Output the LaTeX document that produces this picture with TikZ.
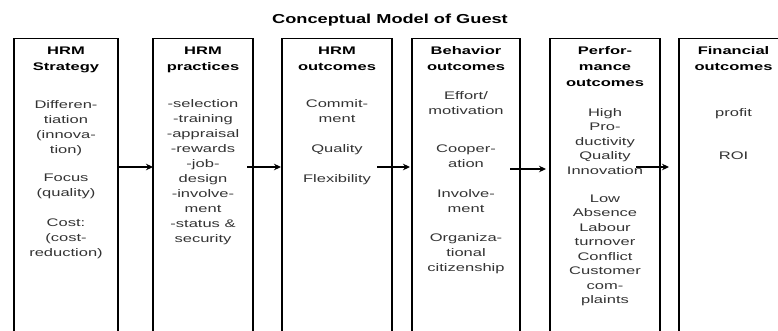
\documentclass[tikz,border=0pt]{standalone}
\usepackage{fontspec}
\usetikzlibrary{arrows.meta}
\newfontfamily\bx{Liberation Sans}[FakeStretch=1.5]
\newfontfamily\tx{Liberation Sans}[FakeStretch=1.4]
\begin{document}
\begin{tikzpicture}[x=1pt,y=-1pt,
  col/.style={draw=black, line width=1.1pt, minimum height=312pt, anchor=north, inner sep=0pt},
  hdr/.style={font=\bx\bfseries\fontsize{11}{16}\selectfont, align=center, anchor=base, inner sep=0pt},
  txt/.style={font=\bx\fontsize{11}{15}\selectfont, align=center, anchor=base, inner sep=0pt, text=black!80},
  tight/.style={font=\bx\fontsize{11}{14.5}\selectfont},
  flow/.style={line width=1.8pt, -{Stealth[length=7pt,width=6.5pt]}}]
\useasboundingbox (0,0) rectangle (778,330);
\clip (0,0) rectangle (778,330);
\fill[white] (0,0) rectangle (778,330);

% title
\node[font=\tx\bfseries\fontsize{13}{15}\selectfont, anchor=base, inner sep=0pt] (title) at (390,23) {Conceptual Model of Guest};

% columns (open at the bottom edge)
\node[col, minimum width=104pt] (b1) at (66,38) {};
\node[col, minimum width=100pt] (b2) at (203,38) {};
\node[col, minimum width=110pt] (b3) at (337,38) {};
\node[col, minimum width=108pt] (b4) at (466,38) {};
\node[col, minimum width=110pt] (b5) at (605,38) {};
\node[col, minimum width=109pt] (b6) at (733.5,38) {};

% text blocks are placed by the baseline of their last line
% HRM strategy
\node[hdr] (h1) at (66,70) {HRM\\Strategy};
\node[txt] (s1) at (66,153) {Differen-\\tiation\\(innova-\\tion)};
\node[txt] (s2) at (66,196) {Focus\\(quality)};
\node[txt] (s3) at (66,256) {Cost:\\(cost-\\reduction)};

% HRM practices
\node[hdr] (h2) at (203,70) {HRM\\practices};
\node[txt] (p1) at (203,242) {-selection\\-training\\-appraisal\\-rewards\\-job-\\design\\-involve-\\ment\\-status \&\\security};

% HRM outcomes
\node[hdr] (h3) at (337,70) {HRM\\outcomes};
\node[txt] (o1) at (337,122) {Commit-\\ment};
\node[txt] (o2) at (337,152) {Quality};
\node[txt] (o3) at (337,182) {Flexibility};

% behaviour outcomes
\node[hdr] (h4) at (466,70) {Behavior\\outcomes};
\node[txt] (e1) at (466,114) {Effort/\\motivation};
\node[txt] (e2) at (466,167) {Cooper-\\ation};
\node[txt] (e3) at (466,212) {Involve-\\ment};
\node[txt] (e4) at (466,271) {Organiza-\\tional\\citizenship};

% performance outcomes
\node[hdr] (h5) at (605,86) {Perfor-\\mance\\outcomes};
\node[txt,tight] (f1) at (605,174) {High\\Pro-\\ductivity\\Quality\\Innovation};
\node[txt,tight] (f2) at (605,303.5) {Low\\Absence\\Labour\\turnover\\Conflict\\Customer\\com-\\plaints};

% financial outcomes
\node[hdr] (h6) at (733.5,70) {Financial\\outcomes};
\node[txt] (r1) at (733.5,116) {profit};
\node[txt] (r2) at (733.5,159) {ROI};

% arrows between the columns
\coordinate (a1s) at (118,167); \coordinate (a1e) at (153,167);
\coordinate (a2s) at (247,167); \coordinate (a2e) at (281,167);
\coordinate (a3s) at (377,167); \coordinate (a3e) at (410,167);
\coordinate (a4s) at (510,169); \coordinate (a4e) at (546,169);
\coordinate (a5s) at (636,167); \coordinate (a5e) at (669,167);
\draw[flow] (a1s) -- (a1e);
\draw[flow] (a2s) -- (a2e);
\draw[flow] (a3s) -- (a3e);
\draw[flow] (a4s) -- (a4e);
\draw[flow] (a5s) -- (a5e);
\end{tikzpicture}
\end{document}
